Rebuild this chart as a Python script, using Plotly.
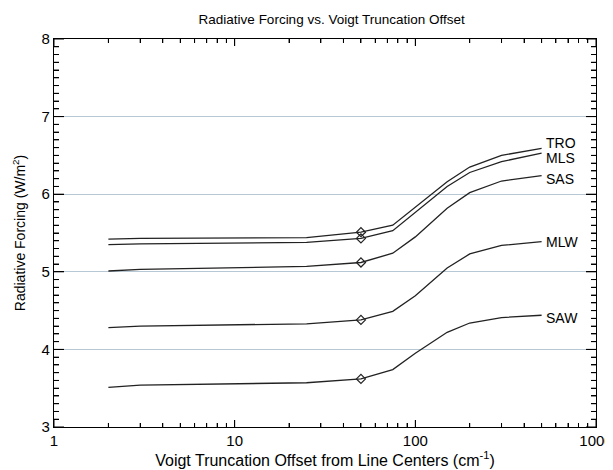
import plotly.graph_objects as go
import math

offsets = [2, 3, 25, 50, 75, 100, 150, 200, 300, 500]
TRO = [5.42, 5.43, 5.44, 5.51, 5.60, 5.83, 6.16, 6.35, 6.50, 6.59]
MLS = [5.35, 5.36, 5.38, 5.43, 5.53, 5.77, 6.10, 6.28, 6.42, 6.53]
SAS = [5.01, 5.03, 5.07, 5.12, 5.24, 5.45, 5.82, 6.02, 6.17, 6.24]
MLW = [4.28, 4.30, 4.33, 4.38, 4.49, 4.69, 5.05, 5.23, 5.34, 5.39]
SAW = [3.51, 3.54, 3.57, 3.62, 3.74, 3.95, 4.22, 4.34, 4.41, 4.44]
names = ["TRO", "MLS", "SAS", "MLW", "SAW"]
series = [TRO, MLS, SAS, MLW, SAW]
marker_x = 50
label_yshift = [5, -5, -3, 0, -3]
x_major = [1, 10, 100, 1000]
x_minor = [m * 10 ** d for d in range(3) for m in range(2, 10)]
y_range = (3, 8)

W, H = 605, 462
M = dict(l=46, r=17, t=31, b=43)
plot_w = W - M["l"] - M["r"]
plot_h = H - M["t"] - M["b"]
lx0, lx1 = math.log10(x_major[0]), math.log10(x_major[-1])

fig = go.Figure()
for nm, ys in zip(names, series):
    fig.add_trace(go.Scatter(x=offsets, y=ys, mode="lines", name=nm,
                             line=dict(color="#222222", width=1.3), showlegend=False))
    i = offsets.index(marker_x)
    fig.add_trace(go.Scatter(x=[offsets[i]], y=[ys[i]], mode="markers", showlegend=False,
                             marker=dict(symbol="diamond-open", size=7, color="#222222",
                                         line=dict(width=1.2))))
for nm, ys, sh in zip(names, series, label_yshift):
    fig.add_annotation(x=math.log10(offsets[-1]), y=ys[-1], text=nm, showarrow=False,
                       xanchor="left", yanchor="middle", xshift=2, yshift=sh,
                       font=dict(size=14, color="black"))

# inside ticks on all four sides, drawn as one SVG path in paper coordinates
segs = []
for v in x_major + x_minor:
    f = (math.log10(v) - lx0) / (lx1 - lx0)
    L = (7 if v in x_major else 4) / plot_h
    segs.append(f"M{f:.5f},0L{f:.5f},{L:.5f}")
    segs.append(f"M{f:.5f},1L{f:.5f},{1 - L:.5f}")
n_y = int(round((y_range[1] - y_range[0]) * 10))
for k in range(n_y + 1):
    f = k / n_y
    L = (10 if k % 10 == 0 else 5) / plot_w
    segs.append(f"M0,{f:.5f}L{L:.5f},{f:.5f}")
    segs.append(f"M1,{f:.5f}L{1 - L:.5f},{f:.5f}")
fig.add_shape(type="path", xref="paper", yref="paper", path="".join(segs),
              line=dict(color="black", width=1), layer="above")

fig.update_layout(
    width=W, height=H,
    margin=M,
    paper_bgcolor="white", plot_bgcolor="white",
    font=dict(family="Liberation Sans, Arial, sans-serif", color="black", size=15),
    title=dict(text="Radiative Forcing vs. Voigt Truncation Offset", x=0.535, xanchor="center",
               y=0.975, yanchor="middle", font=dict(size=13.5)),
)
fig.update_xaxes(
    type="log", range=[lx0, lx1], tickvals=x_major, ticktext=[str(v) for v in x_major],
    showline=True, linecolor="black", linewidth=1.2, mirror="allticks",
    ticks="inside", ticklen=7, tickwidth=1, tickcolor="black", showgrid=False, zeroline=False,
    minor=dict(ticks="inside", ticklen=4, tickwidth=1, tickcolor="black",
               tickmode="array", tickvals=x_minor, showgrid=False),
    title=dict(text="Voigt Truncation Offset from Line Centers (cm<sup>-1</sup>)", font=dict(size=16), standoff=4),
    tickfont=dict(size=15), automargin=False,
)
fig.update_yaxes(
    range=list(y_range), dtick=1, tick0=3,
    showline=True, linecolor="black", linewidth=1.2, mirror="allticks",
    ticks="inside", ticklen=10, tickwidth=1, tickcolor="black",
    showgrid=True, gridcolor="#b7c7d3", gridwidth=1, zeroline=False,
    minor=dict(ticks="inside", ticklen=5, tickwidth=1, tickcolor="black", dtick=0.1, showgrid=False),
    title=dict(text="Radiative Forcing (W/m<sup>2</sup>)", font=dict(size=14), standoff=12),
    tickfont=dict(size=15), automargin=False,
)
fig.write_html("out.html")
